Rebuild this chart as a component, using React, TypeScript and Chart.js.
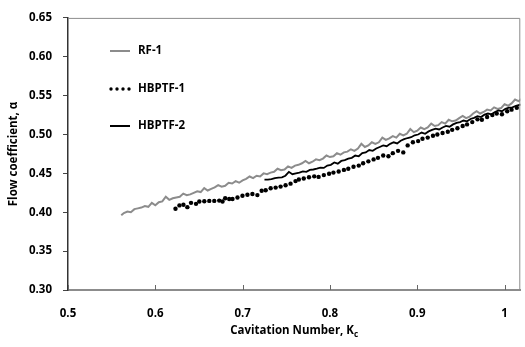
import React, { useEffect, useRef } from "react";
import { Chart, registerables } from "chart.js";

Chart.register(...registerables);

const rf1X = [0.561,0.564,0.568,0.572,0.576,0.580,0.584,0.588,0.592,0.596,0.600,0.604,0.608,0.612,0.616,0.620,0.624,0.628,0.632,0.636,0.640,0.644,0.648,0.652,0.656,0.660,0.664,0.668,0.672,0.676,0.680,0.684,0.688,0.692,0.696,0.700,0.704,0.708,0.712,0.716,0.720,0.724,0.728,0.732,0.736,0.740,0.744,0.748,0.752,0.756,0.760,0.764,0.768,0.772,0.776,0.780,0.784,0.788,0.792,0.796,0.800,0.804,0.808,0.812,0.816,0.820,0.824,0.828,0.832,0.836,0.840,0.844,0.848,0.852,0.856,0.860,0.864,0.868,0.872,0.876,0.880,0.884,0.888,0.892,0.896,0.900,0.904,0.908,0.912,0.916,0.920,0.924,0.928,0.932,0.936,0.940,0.944,0.948,0.952,0.956,0.960,0.964,0.968,0.972,0.976,0.980,0.984,0.988,0.992,0.996,1.000,1.004,1.008,1.012,1.016,1.020];
const rf1Y = [0.396,0.399,0.401,0.400,0.404,0.405,0.406,0.408,0.407,0.412,0.409,0.413,0.414,0.420,0.416,0.418,0.419,0.420,0.424,0.422,0.423,0.425,0.427,0.426,0.431,0.428,0.430,0.432,0.435,0.433,0.434,0.438,0.437,0.440,0.438,0.441,0.443,0.446,0.444,0.447,0.446,0.450,0.449,0.451,0.452,0.456,0.454,0.455,0.459,0.457,0.460,0.461,0.463,0.466,0.463,0.465,0.468,0.467,0.469,0.473,0.471,0.472,0.476,0.474,0.477,0.478,0.481,0.479,0.482,0.488,0.484,0.486,0.490,0.488,0.490,0.496,0.493,0.495,0.498,0.496,0.501,0.499,0.501,0.507,0.503,0.505,0.509,0.507,0.509,0.514,0.511,0.512,0.516,0.514,0.519,0.517,0.518,0.521,0.524,0.521,0.523,0.527,0.530,0.527,0.529,0.532,0.531,0.535,0.533,0.534,0.539,0.537,0.540,0.545,0.543,0.546];

const hb1X = [0.6231,0.6276,0.6322,0.6367,0.6409,0.6466,0.6504,0.6561,0.6618,0.6675,0.6732,0.677,0.680,0.6846,0.6884,0.6941,0.6998,0.7055,0.7112,0.7169,0.7218,0.7264,0.7321,0.7378,0.7435,0.7492,0.7549,0.7606,0.7644,0.770,0.776,0.782,0.787,0.793,0.799,0.804,0.810,0.816,0.821,0.827,0.833,0.838,0.844,0.850,0.855,0.861,0.867,0.872,0.878,0.884,0.889,0.895,0.901,0.906,0.912,0.918,0.923,0.929,0.935,0.940,0.946,0.952,0.957,0.963,0.969,0.974,0.980,0.986,0.991,0.997,1.003,1.008,1.014];
const hb1Y = [0.4045,0.4088,0.4096,0.4066,0.4121,0.4108,0.4138,0.4142,0.4146,0.4146,0.415,0.4138,0.418,0.4171,0.4171,0.419,0.4213,0.4226,0.4234,0.4221,0.4276,0.4284,0.4309,0.4317,0.433,0.4347,0.4368,0.4401,0.4422,0.4435,0.4450,0.4462,0.4455,0.4478,0.4495,0.4510,0.4525,0.4545,0.4560,0.4585,0.4600,0.4630,0.4655,0.4680,0.4700,0.4730,0.4720,0.4760,0.4790,0.4770,0.4860,0.4900,0.4915,0.4945,0.4960,0.4985,0.5000,0.5020,0.5035,0.5060,0.5080,0.5110,0.5130,0.5160,0.5195,0.5190,0.5225,0.5250,0.5270,0.5260,0.5300,0.5320,0.5345];

const hb2X = [0.725,0.729,0.733,0.737,0.741,0.745,0.749,0.753,0.757,0.761,0.765,0.769,0.773,0.777,0.781,0.785,0.789,0.793,0.797,0.801,0.805,0.809,0.813,0.817,0.821,0.825,0.829,0.833,0.837,0.841,0.845,0.849,0.853,0.857,0.861,0.865,0.869,0.873,0.877,0.881,0.885,0.889,0.893,0.897,0.901,0.905,0.909,0.913,0.917,0.921,0.925,0.929,0.933,0.937,0.941,0.945,0.949,0.953,0.957,0.961,0.965,0.969,0.973,0.977,0.981,0.985,0.989,0.993,0.997,1.001,1.005,1.009,1.013,1.017,1.020];
const hb2Y = [0.4420,0.4420,0.4425,0.4440,0.4445,0.4450,0.4470,0.4520,0.4490,0.4500,0.4510,0.4525,0.4520,0.4545,0.4550,0.4560,0.4575,0.4570,0.4600,0.4610,0.4640,0.4625,0.4660,0.4670,0.4690,0.4700,0.4730,0.4720,0.4760,0.4770,0.4800,0.4790,0.4820,0.4840,0.4860,0.4850,0.4880,0.4900,0.4885,0.4920,0.4940,0.4955,0.4965,0.4990,0.5000,0.5025,0.5010,0.5040,0.5060,0.5075,0.5065,0.5090,0.5110,0.5100,0.5130,0.5150,0.5160,0.5180,0.5170,0.5200,0.5215,0.5235,0.5225,0.5255,0.5270,0.5260,0.5290,0.5310,0.5300,0.5330,0.5345,0.5350,0.5370,0.5380,0.5385];

const xTicks = [0.5, 0.6, 0.7, 0.8, 0.9, 1.0];
const yTicks = [0.30, 0.35, 0.40, 0.45, 0.50, 0.55, 0.60, 0.65];
const seriesNames = ["RF-1", "HBPTF-1", "HBPTF-2"];

const FONT = "'Open Sans', sans-serif";
const GREY = "#8c8c8c";

const zip = (xs: number[], ys: number[]) => xs.map((x, i) => ({ x, y: ys[i] }));

const overlayPlugin = {
  id: "overlay",
  afterDraw(chart: any) {
    const ctx = chart.ctx;
    const a = chart.chartArea;
    const xs = chart.scales.x;
    ctx.save();
    ctx.strokeStyle = GREY;
    ctx.lineWidth = 1;
    ctx.beginPath();
    ctx.moveTo(a.left, a.top + 0.5);
    ctx.lineTo(a.right - 0.5, a.top + 0.5);
    ctx.lineTo(a.right - 0.5, a.bottom);
    ctx.stroke();
    ctx.strokeStyle = "#666";
    ctx.beginPath();
    xTicks.forEach((v) => {
      const px = Math.round(xs.getPixelForValue(v)) + 0.5;
      ctx.moveTo(px, a.bottom);
      ctx.lineTo(px, a.bottom - 5);
    });
    ctx.stroke();

    const lx = 110, lw = 20, tx = 138;
    const ly = [51, 89, 126];
    ctx.font = `bold 11.5px ${FONT}`;
    ctx.textBaseline = "middle";
    ctx.textAlign = "left";
    ctx.fillStyle = "#000";
    ctx.strokeStyle = GREY;
    ctx.lineWidth = 2;
    ctx.beginPath();
    ctx.moveTo(lx, ly[0]);
    ctx.lineTo(lx + lw, ly[0]);
    ctx.stroke();
    for (let i = 0; i < 4; i++) {
      ctx.beginPath();
      ctx.arc(lx + 1 + i * 6, ly[1], 1.7, 0, Math.PI * 2);
      ctx.fill();
    }
    ctx.strokeStyle = "#000";
    ctx.beginPath();
    ctx.moveTo(lx, ly[2]);
    ctx.lineTo(lx + lw, ly[2]);
    ctx.stroke();
    seriesNames.forEach((n, i) => ctx.fillText(n, tx, ly[i]));

    const main = "Cavitation Number, K";
    ctx.font = `bold 11.5px ${FONT}`;
    const w1 = ctx.measureText(main).width;
    ctx.font = `bold 8px ${FONT}`;
    const w2 = ctx.measureText("c").width;
    const cx = (a.left + a.right) / 2;
    const sx = cx - (w1 + w2) / 2;
    ctx.textBaseline = "alphabetic";
    ctx.font = `bold 11.5px ${FONT}`;
    ctx.fillText(main, sx, 334);
    ctx.font = `bold 8px ${FONT}`;
    ctx.fillText("c", sx + w1, 337);

    ctx.translate(14, (a.top + a.bottom) / 2);
    ctx.rotate(-Math.PI / 2);
    ctx.font = `bold 11.5px ${FONT}`;
    ctx.textAlign = "center";
    ctx.textBaseline = "middle";
    ctx.fillText("Flow coefficient, α", 0, 0);
    ctx.restore();
  },
};

export default function App() {
  const ref = useRef<HTMLCanvasElement | null>(null);
  useEffect(() => {
    document.body.style.margin = "0";
    if (!ref.current) return;
    const chart = new Chart(ref.current, {
      type: "scatter",
      data: {
        datasets: [
          {
            label: seriesNames[0],
            data: zip(rf1X, rf1Y),
            showLine: true,
            borderColor: GREY,
            borderWidth: 2,
            pointRadius: 0,
            order: 3,
          },
          {
            label: seriesNames[1],
            data: zip(hb1X, hb1Y),
            showLine: false,
            backgroundColor: "#000",
            borderColor: "#000",
            borderWidth: 0,
            pointRadius: 2.2,
            order: 2,
          },
          {
            label: seriesNames[2],
            data: zip(hb2X, hb2Y),
            showLine: true,
            borderColor: "#000",
            borderWidth: 1.8,
            pointRadius: 0,
            order: 1,
          },
        ],
      },
      options: {
        animation: false,
        responsive: false,
        layout: { padding: { left: 0, top: 11, right: 2, bottom: 0 } },
        plugins: { legend: { display: false }, tooltip: { enabled: false } },
        scales: {
          x: {
            type: "linear",
            min: 0.5,
            max: 1.018,
            afterFit: (s: any) => { s.height = 57; },
            afterBuildTicks: (s: any) => { s.ticks = xTicks.map((v) => ({ value: v })); },
            grid: { display: true, drawOnChartArea: false, drawTicks: false },
            border: { color: GREY, width: 2 },
            ticks: {
              padding: 17,
              color: "#000",
              font: { family: FONT, size: 11.5, weight: "bold" },
              callback: (v: any) => (Number(v) === 1 ? "1" : Number(v).toFixed(1)),
            },
          },
          y: {
            type: "linear",
            min: 0.3,
            max: 0.65,
            afterFit: (s: any) => { s.width = 68; },
            afterBuildTicks: (s: any) => { s.ticks = yTicks.map((v) => ({ value: v })); },
            grid: { display: true, drawOnChartArea: false, drawTicks: true, tickLength: 5, tickColor: "#444" },
            border: { color: "#333", width: 1.5 },
            ticks: {
              padding: 11,
              color: "#000",
              font: { family: FONT, size: 11.5, weight: "bold" },
              callback: (v: any) => Number(v).toFixed(2),
            },
          },
        },
      },
      plugins: [overlayPlugin],
    } as any);
    return () => chart.destroy();
  }, []);
  return (
    <div style={{ width: 525, height: 347 }}>
      <canvas ref={ref} width={525} height={347} />
    </div>
  );
}
